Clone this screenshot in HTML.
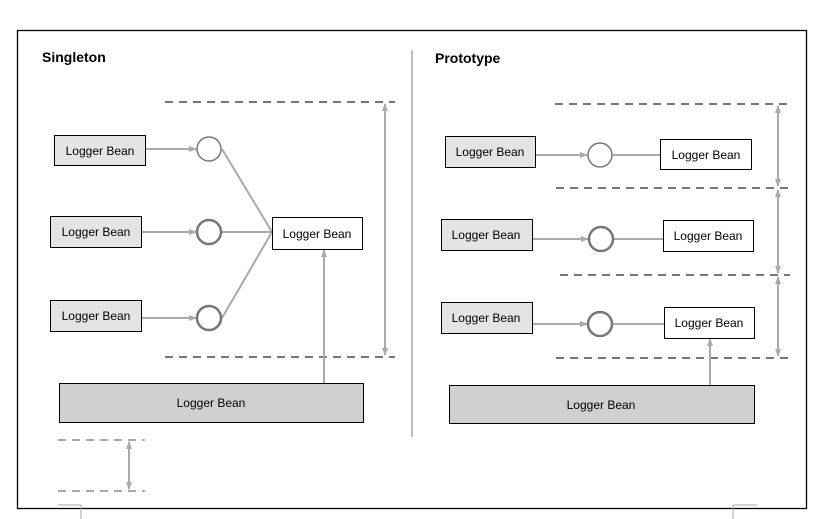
<!DOCTYPE html>
<html><head><style>
html,body{margin:0;padding:0;background:#fff}
svg{display:block}
text{font-family:"Liberation Sans",sans-serif;font-size:12px;fill:#000}
</style></head><body>
<svg width="823" height="519" viewBox="0 0 823 519" xmlns="http://www.w3.org/2000/svg">
<defs>
<marker id="a" markerWidth="8" markerHeight="8" refX="7" refY="4" orient="auto" markerUnits="userSpaceOnUse"><path d="M0,1 L8,4 L0,7 z" fill="#aaa"/></marker>
<marker id="s" markerWidth="8" markerHeight="8" refX="1" refY="4" orient="auto" markerUnits="userSpaceOnUse"><path d="M8,1 L0,4 L8,7 z" fill="#aaa"/></marker>
</defs>
<rect x="17.5" y="30.5" width="789" height="478" fill="none" stroke="#000" stroke-width="1.3"/>
<line x1="412" y1="50" x2="412" y2="437" stroke="#aaa" stroke-width="1.5"/>
<text x="42" y="62" style="font-weight:bold;font-size:14px">Singleton</text>
<text x="435" y="63" style="font-weight:bold;font-size:14px">Prototype</text>
<g stroke="#777" stroke-width="2" stroke-dasharray="8,6">
<line x1="165" y1="102" x2="395" y2="102"/><line x1="165" y1="357" x2="395" y2="357"/>
<line x1="555" y1="104" x2="790" y2="104"/><line x1="556" y1="188" x2="790" y2="188"/>
<line x1="560" y1="275" x2="790" y2="275"/><line x1="556" y1="358" x2="790" y2="358"/>
</g>
<g stroke="#aaa" stroke-width="2" stroke-dasharray="8,6">
<line x1="58" y1="440" x2="145" y2="440"/><line x1="58" y1="491" x2="145" y2="491"/>
</g>
<g stroke="#aaa" stroke-width="2" fill="none">
<line x1="385" y1="104" x2="385" y2="355" marker-start="url(#s)" marker-end="url(#a)"/>
<line x1="129" y1="442" x2="129" y2="489" marker-start="url(#s)" marker-end="url(#a)"/>
<line x1="778" y1="106" x2="778" y2="186" marker-start="url(#s)" marker-end="url(#a)"/>
<line x1="778" y1="190" x2="778" y2="273" marker-start="url(#s)" marker-end="url(#a)"/>
<line x1="778" y1="277" x2="778" y2="356" marker-start="url(#s)" marker-end="url(#a)"/>
<line x1="145" y1="149" x2="196" y2="149" marker-end="url(#a)"/>
<line x1="141" y1="232" x2="196" y2="232" marker-end="url(#a)"/>
<line x1="141" y1="318" x2="196" y2="318" marker-end="url(#a)"/>
<line x1="222" y1="149" x2="272" y2="232"/><line x1="222" y1="232" x2="272" y2="232"/><line x1="222" y1="318" x2="272" y2="232"/>
<line x1="324" y1="383" x2="324" y2="250" marker-end="url(#a)"/>
<line x1="535" y1="155" x2="587" y2="155" marker-end="url(#a)"/>
<line x1="532" y1="239" x2="588" y2="239" marker-end="url(#a)"/>
<line x1="532" y1="324" x2="587" y2="324" marker-end="url(#a)"/>
<line x1="613" y1="155" x2="660" y2="155"/><line x1="614" y1="239" x2="663" y2="239"/><line x1="613" y1="324" x2="664" y2="324"/>
<line x1="710" y1="385" x2="710" y2="339" marker-end="url(#a)"/>
<polyline points="58,505 81,505 81,519" stroke-width="1"/>
<polyline points="757,505 733,505 733,519" stroke-width="1"/>
</g>
<g fill="#fff" stroke="#777">
<circle cx="209" cy="149" r="12" stroke-width="1.5"/><circle cx="209" cy="232" r="12" stroke-width="2.5"/><circle cx="209" cy="318" r="12" stroke-width="2.5"/>
<circle cx="600" cy="155" r="12" stroke-width="1.5"/><circle cx="601" cy="239" r="12" stroke-width="2.5"/><circle cx="600" cy="324" r="12" stroke-width="2.5"/>
</g>
<g stroke="#000" stroke-width="1">
<rect x="54.5" y="135.5" width="91" height="30" fill="#e4e4e4"/>
<rect x="50.5" y="216.5" width="91" height="31" fill="#e4e4e4"/>
<rect x="50.5" y="300.5" width="91" height="31" fill="#e4e4e4"/>
<rect x="272.5" y="217.5" width="90" height="32" fill="#fff"/>
<rect x="59.5" y="383.5" width="304" height="39" fill="#d0d0d0"/>
<rect x="445.5" y="136.5" width="90" height="31" fill="#e4e4e4"/>
<rect x="441.5" y="219.5" width="91" height="31" fill="#e4e4e4"/>
<rect x="441.5" y="302.5" width="91" height="31" fill="#e4e4e4"/>
<rect x="660.5" y="139.5" width="91" height="30" fill="#fff"/>
<rect x="663.5" y="220.5" width="90" height="31" fill="#fff"/>
<rect x="664.5" y="307.5" width="90" height="31" fill="#fff"/>
<rect x="449.5" y="385.5" width="305" height="38" fill="#d0d0d0"/>
</g>
<g text-anchor="middle">
<text x="100" y="155">Logger Bean</text>
<text x="96" y="236">Logger Bean</text>
<text x="96" y="320">Logger Bean</text>
<text x="317" y="238">Logger Bean</text>
<text x="211" y="407">Logger Bean</text>
<text x="490" y="156">Logger Bean</text>
<text x="486" y="239">Logger Bean</text>
<text x="486" y="322">Logger Bean</text>
<text x="706" y="159">Logger Bean</text>
<text x="708" y="240">Logger Bean</text>
<text x="709" y="327">Logger Bean</text>
<text x="601" y="409">Logger Bean</text>
</g>
</svg>
</body></html>
